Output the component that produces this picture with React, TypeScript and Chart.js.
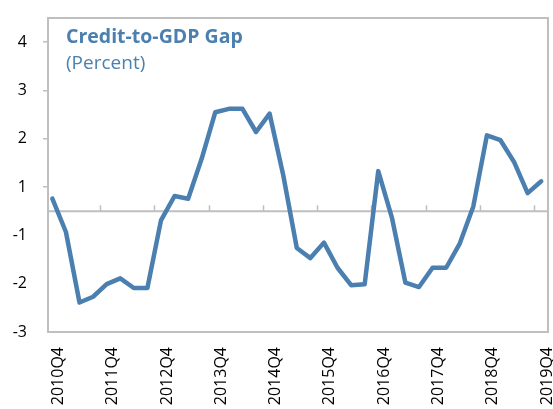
import React, { useEffect, useRef } from "react";
import { Chart, registerables } from "chart.js";

Chart.register(...registerables);

const categories = [
  "2010Q4", "2011Q1", "2011Q2", "2011Q3", "2011Q4", "2012Q1", "2012Q2", "2012Q3",
  "2012Q4", "2013Q1", "2013Q2", "2013Q3", "2013Q4", "2014Q1", "2014Q2", "2014Q3",
  "2014Q4", "2015Q1", "2015Q2", "2015Q3", "2015Q4", "2016Q1", "2016Q2", "2016Q3",
  "2016Q4", "2017Q1", "2017Q2", "2017Q3", "2017Q4", "2018Q1", "2018Q2", "2018Q3",
  "2018Q4", "2019Q1", "2019Q2", "2019Q3", "2019Q4",
];

const gapValues = [
  0.52, -0.86, -2.39, -2.27, -2.01, -1.89, -2.09, -2.09,
  -0.38, 0.63, 0.52, 1.59, 2.55, 2.62, 2.62, 2.14,
  2.52, 1.25, -1.26, -1.47, -1.15, -1.67, -2.03, -2.01,
  1.33, -0.25, -1.98, -2.07, -1.67, -1.67, -1.17, 0.2,
  2.07, 1.97, 1.52, 0.75, 1.12,
];

const yTickValues = [-3, -2, -1, 1, 2, 3, 4];
const xLabelEvery = 4;

const TITLE = "Credit-to-GDP Gap";
const SUBTITLE = "(Percent)";

const LINE_COLOR = "#4a7fb0";
const TITLE_COLOR = "#4a7fb0";
const FRAME_COLOR = "#bfbfbf";
const FONT = "'Open Sans', 'Noto Sans', sans-serif";

// The axis shown in the picture puts 1 and -1 one step apart around the zero line.
function toAxis(v: number): number {
  if (v >= 1) return v;
  if (v <= -1) return v + 1;
  return (v + 1) / 2;
}

export default function App() {
  const canvasRef = useRef<HTMLCanvasElement | null>(null);

  useEffect(() => {
    const canvas = canvasRef.current;
    if (!canvas) return;

    const framePlugin = {
      id: "framePlugin",
      beforeDatasetsDraw(chart: any) {
        const { ctx, chartArea } = chart;
        const xs = chart.scales.x;
        const ys = chart.scales.y;
        ctx.save();
        ctx.strokeStyle = FRAME_COLOR;
        ctx.lineWidth = 2;
        ctx.strokeRect(chartArea.left, chartArea.top, chartArea.right - chartArea.left, chartArea.bottom - chartArea.top);
        const y0 = ys.getPixelForValue(toAxis(0));
        ctx.beginPath();
        ctx.moveTo(chartArea.left, y0);
        ctx.lineTo(chartArea.right, y0);
        ctx.stroke();
        ctx.lineWidth = 1.5;
        for (let i = xLabelEvery - 0.5; i < categories.length - 1; i += xLabelEvery) {
          const px = Math.round(xs.getPixelForValue(i)) + 0.5;
          ctx.beginPath();
          ctx.moveTo(px, y0);
          ctx.lineTo(px, y0 - 6);
          ctx.stroke();
        }
        ctx.restore();
      },
      afterDraw(chart: any) {
        const { ctx } = chart;
        ctx.save();
        ctx.fillStyle = TITLE_COLOR;
        ctx.textAlign = "left";
        ctx.textBaseline = "alphabetic";
        ctx.font = `bold 19.5px ${FONT}`;
        ctx.fillText(TITLE, 66, 43);
        ctx.font = `19px ${FONT}`;
        ctx.fillText(SUBTITLE, 66, 69);
        ctx.restore();
      },
    };

    const chart = new Chart(canvas, {
      type: "line",
      data: {
        datasets: [
          {
            label: TITLE,
            data: gapValues.map((v, i) => ({ x: i, y: toAxis(v) })),
            borderColor: LINE_COLOR,
            backgroundColor: LINE_COLOR,
            borderWidth: 4.5,
            pointRadius: 0,
            tension: 0,
            borderJoinStyle: "round",
            borderCapStyle: "round",
          },
        ],
      },
      options: {
        responsive: false,
        animation: false,
        layout: { padding: { left: 0, right: 5, top: 18, bottom: 0 } },
        plugins: {
          legend: { display: false },
          tooltip: { enabled: false },
          title: { display: false },
        },
        scales: {
          x: {
            type: "linear",
            min: -0.32,
            max: 36.5,
            afterFit: (s: any) => {
              s.height = 77;
              s.paddingLeft = 0;
              s.paddingRight = 0;
            },
            afterBuildTicks: (s: any) => {
              const t = [];
              for (let i = 0; i < categories.length; i += xLabelEvery) t.push({ value: i });
              s.ticks = t;
            },
            grid: { display: false, drawTicks: false },
            border: { display: false },
            ticks: {
              autoSkip: false,
              maxRotation: 90,
              minRotation: 90,
              padding: 15,
              labelOffset: 6,
              color: "#000",
              font: { family: FONT, size: 16 },
              callback: (value: any) => categories[Math.round(Number(value))] ?? "",
            },
          },
          y: {
            type: "linear",
            min: toAxis(-3),
            max: 4.5,
            afterFit: (s: any) => {
              s.width = 48;
              s.paddingTop = 0;
              s.paddingBottom = 0;
            },
            afterBuildTicks: (s: any) => {
              const vals = yTickValues.map((v) => toAxis(v));
              vals.push(toAxis(0));
              vals.sort((a, b) => a - b);
              s.ticks = vals.map((v) => ({ value: v }));
            },
            grid: {
              display: true,
              drawOnChartArea: false,
              tickLength: 5,
              lineWidth: 1.5,
              color: (ctx: any) => (ctx.tick && ctx.tick.value >= 1 ? FRAME_COLOR : "rgba(0,0,0,0)"),
              tickColor: (ctx: any) => (ctx.tick && ctx.tick.value >= 1 ? FRAME_COLOR : "rgba(0,0,0,0)"),
            },
            border: { display: false },
            ticks: {
              padding: 16,
              color: "#000",
              font: { family: FONT, size: 16 },
              callback: (value: any) => {
                const idx = yTickValues.findIndex((v) => Math.abs(toAxis(v) - Number(value)) < 1e-6);
                return idx >= 0 ? String(yTickValues[idx]) : "";
              },
            },
          },
        },
      },
      plugins: [framePlugin],
    });

    return () => chart.destroy();
  }, []);

  return (
    <div style={{ position: "fixed", left: 0, top: 0, width: 553, height: 409, background: "#fff" }}>
      <canvas ref={canvasRef} width={553} height={409} style={{ display: "block" }} />
    </div>
  );
}
